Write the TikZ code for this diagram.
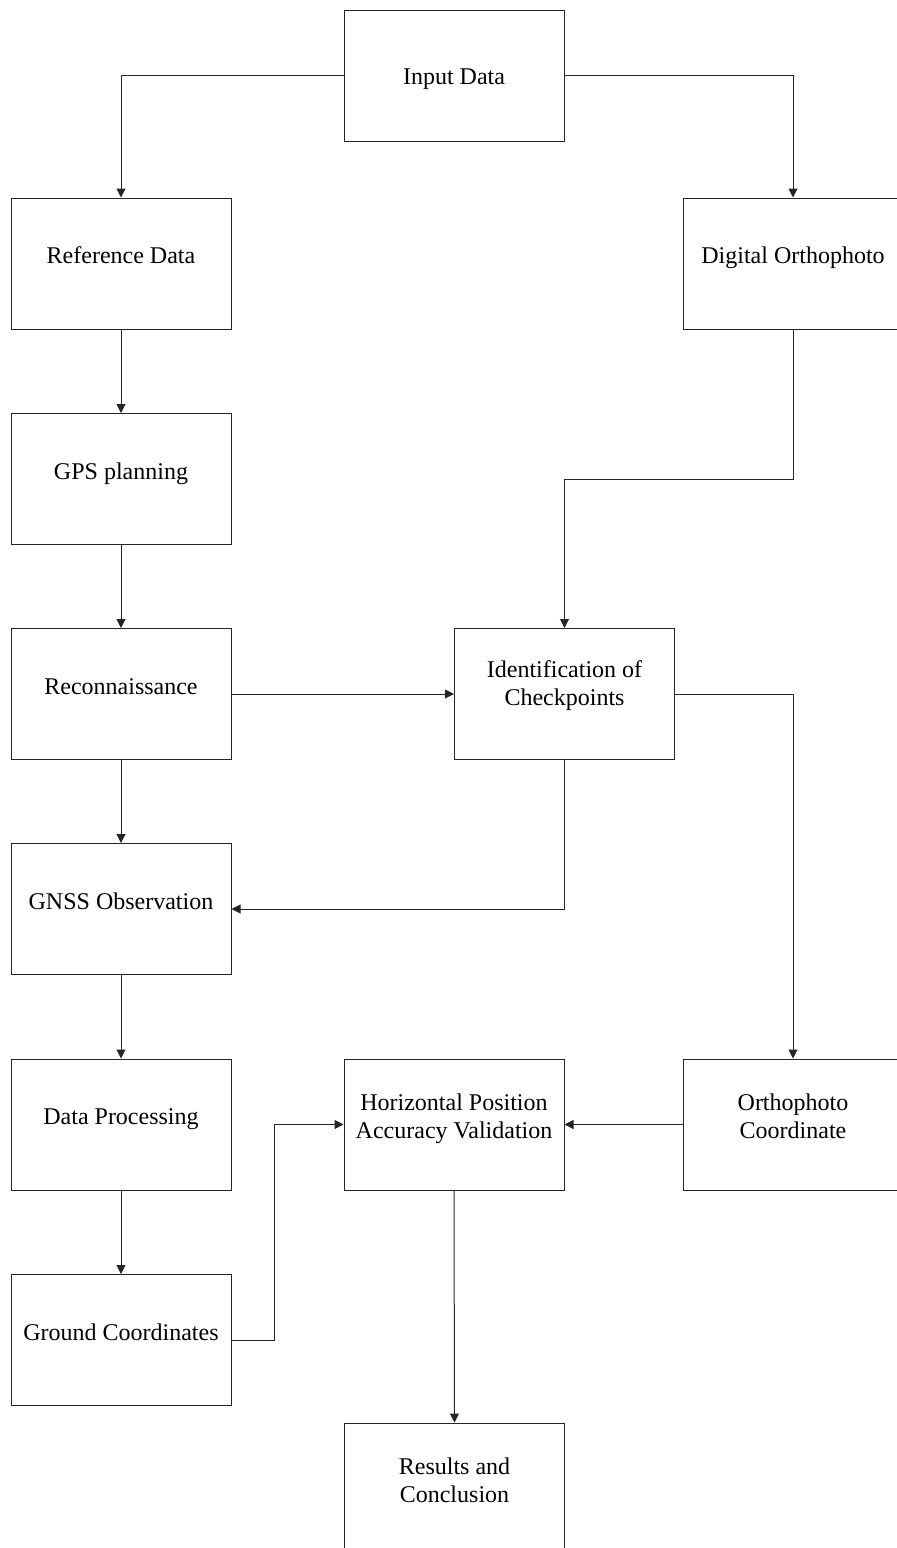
\documentclass[tikz,border=0pt]{standalone}
\usepackage{fontspec}
\setmainfont{Liberation Serif}
\usetikzlibrary{arrows.meta}
\begin{document}
\begin{tikzpicture}[x=0.5pt,y=-0.5pt,
  box/.style={draw=black!85,line width=0.5pt,minimum width=110pt,minimum height=65.5pt,inner sep=0pt},
  txt/.style={font=\fontsize{12}{14}\selectfont,align=center,inner sep=0pt,yshift=4.25pt},
  txtone/.style={txt,text height=8.5pt,text depth=0pt},
  conn/.style={draw=black!85,line width=0.5pt,-{Triangle[length=4.5pt,width=4.5pt]}}]
\useasboundingbox (0,0) rectangle (896,1548);
\node[box,label={[txtone,yshift=-4.25pt]center:Input Data}] (inp) at (454,75.5) {};
\node[box,label={[txtone]center:Reference Data}] (ref) at (121,263.5) {};
\node[box,label={[txtone]center:Digital Orthophoto}] (dig) at (793,263.5) {};
\node[box,label={[txtone]center:GPS planning}] (gps) at (121,479) {};
\node[box,label={[txtone]center:Reconnaissance}] (rec) at (121,694) {};
\node[box,label={[txt]center:Identification of\\Checkpoints}] (idc) at (564.5,694) {};
\node[box,label={[txtone]center:GNSS Observation}] (gnss) at (121,909) {};
\node[box,label={[txtone]center:Data Processing}] (dp) at (121,1124.5) {};
\node[box,label={[txt,yshift=-1.5pt]center:Horizontal Position\\Accuracy Validation}] (hpa) at (454,1124.5) {};
\node[box,label={[txt]center:Orthophoto\\Coordinate}] (oc) at (793,1124.5) {};
\node[box,label={[txtone]center:Ground Coordinates}] (gc) at (121,1340) {};
\node[box,label={[txt]center:Results and\\Conclusion}] (res) at (454.5,1488.5) {};

\draw[conn] (inp.west) -| (ref.north);
\draw[conn] (inp.east) -| (dig.north);
\draw[conn] (ref.south) -- (gps.north);
\draw[conn] (gps.south) -- (rec.north);
\draw[conn] (rec.south) -- (gnss.north);
\draw[conn] (gnss.south) -- (dp.north);
\draw[conn] (dp.south) -- (gc.north);
\draw[conn] (dig.south) |- (gps.east -| idc.north) -- (idc.north);
\draw[conn] (rec.east) -- (idc.west);
\draw[conn] (idc.east) -| (oc.north);
\draw[conn] (idc.south) |- (gnss.east);
\draw[conn] (gc.east) -- ([xshift=21.5pt]gc.east) |- (hpa.west);
\draw[conn] (oc.west) -- (hpa.east);
\draw[conn] (hpa.south) -- (res.north);
\end{tikzpicture}
\end{document}
